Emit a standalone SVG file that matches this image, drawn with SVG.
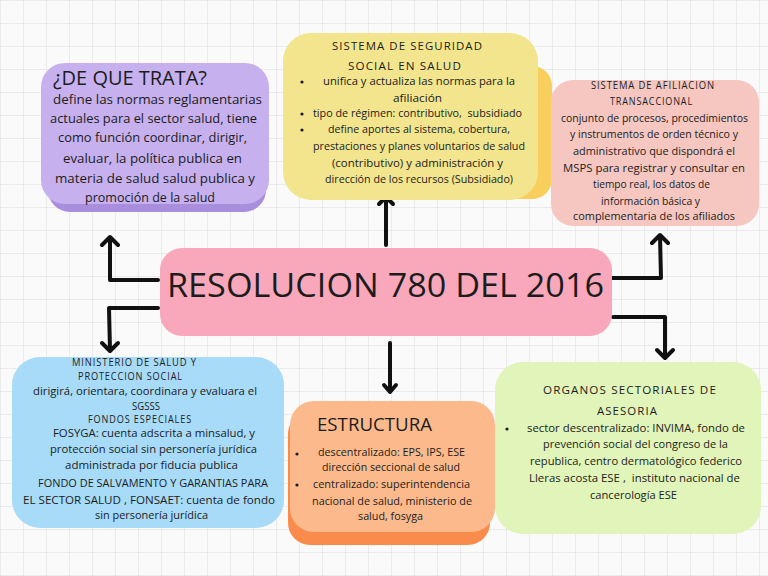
<svg xmlns="http://www.w3.org/2000/svg" width="768" height="576" viewBox="0 0 768 576">
<defs>
<pattern id="grid" x="0" y="0" width="23" height="23" patternUnits="userSpaceOnUse">
<path d="M 23 0 L 0 0 0 23" fill="none" stroke="#dcdcdc" stroke-width="1"/>
</pattern>
<style>
text{font-family:"Open Sans","Liberation Sans",sans-serif;fill:#1c1c1c;}
.b{font-size:10.5px;text-anchor:middle;}
.bb{font-size:12.5px;text-anchor:middle;}
.h{font-size:10.5px;text-anchor:middle;letter-spacing:1px;}
.arrow{fill:none;stroke:#111;stroke-width:4;stroke-linecap:round;stroke-linejoin:round;}
.dot{fill:#1c1c1c;}
</style>
</defs>
<rect width="768" height="576" fill="#fafafa"/>
<rect width="768" height="576" fill="url(#grid)"/>

<g id="connectors">
<path class="arrow" d="M386 245 L386 198 M379 204 L386 197 L393 204"/>
<path class="arrow" d="M390 343 L390 391 M384 385 L390 392 L396 385"/>
<path class="arrow" d="M158 280 L110 280 L110 238 M102 245 L110 237 L118 245"/>
<path class="arrow" d="M158 308 L109 308 L110 350 M102 343 L110 351 L118 343"/>
<path class="arrow" d="M608 278 L661 278 L660 236 M652 243 L660 235 L668 243"/>
<path class="arrow" d="M613 317 L665 317 L665 357 M657 350 L665 358 L673 350"/>
</g>

<g id="node-que-trata">
<rect x="48" y="72" width="218" height="140" rx="22" fill="#a98edd"/>
<rect x="41" y="63" width="228" height="141" rx="24" fill="#c6b1ee"/>
<text x="53" y="85" font-size="20" textLength="154" lengthAdjust="spacingAndGlyphs">¿DE QUE TRATA?</text>
<text class="bb" x="157.5" y="104" textLength="209" lengthAdjust="spacingAndGlyphs">define las normas reglamentarias</text>
<text class="bb" x="153.5" y="123" textLength="207" lengthAdjust="spacingAndGlyphs">actuales para el sector salud, tiene</text>
<text class="bb" x="152.5" y="142" textLength="189" lengthAdjust="spacingAndGlyphs">como función coordinar, dirigir,</text>
<text class="bb" x="152.5" y="163" textLength="179" lengthAdjust="spacingAndGlyphs">evaluar, la política publica en</text>
<text class="bb" x="155" y="183" textLength="200" lengthAdjust="spacingAndGlyphs">materia de salud salud publica y</text>
<text class="bb" x="150" y="202" textLength="130" lengthAdjust="spacingAndGlyphs">promoción de la salud</text>
</g>

<g id="node-sistema-seguridad">
<rect x="300" y="66" width="252" height="133" rx="20" fill="#f8cf5c"/>
<rect x="283" y="33" width="255" height="167" rx="28" fill="#f2e58e"/>
<text class="h" x="407.5" y="50" textLength="151" lengthAdjust="spacingAndGlyphs">SISTEMA DE SEGURIDAD</text>
<text class="h" x="405" y="70" textLength="114" lengthAdjust="spacingAndGlyphs">SOCIAL EN SALUD</text>
<circle class="dot" cx="302" cy="82" r="1.6"/>
<circle class="dot" cx="302" cy="114" r="1.6"/>
<circle class="dot" cx="302" cy="130" r="1.6"/>
<text class="b" x="419" y="85" textLength="192" lengthAdjust="spacingAndGlyphs">unifica y actualiza las normas para la</text>
<text class="b" x="417.5" y="102" textLength="49" lengthAdjust="spacingAndGlyphs">afiliación</text>
<text class="b" x="417.5" y="117" textLength="209" lengthAdjust="spacingAndGlyphs" xml:space="preserve">tipo de régimen: contributivo,  subsidiado</text>
<text class="b" x="419" y="133" textLength="182" lengthAdjust="spacingAndGlyphs">define aportes al sistema, cobertura,</text>
<text class="b" x="419" y="150" textLength="212" lengthAdjust="spacingAndGlyphs">prestaciones y planes voluntarios de salud</text>
<text class="b" x="417.5" y="167" textLength="171" lengthAdjust="spacingAndGlyphs">(contributivo) y administración y</text>
<text class="b" x="419" y="183" textLength="188" lengthAdjust="spacingAndGlyphs">dirección de los recursos (Subsidiado)</text>
</g>

<g id="node-afiliacion">
<rect x="551" y="80" width="208" height="146" rx="22" fill="#f5c7c0"/>
<text class="h" x="653" y="89" font-size="10" textLength="124" lengthAdjust="spacingAndGlyphs">SISTEMA DE AFILIACION</text>
<text class="h" x="651.5" y="105" font-size="10" textLength="83" lengthAdjust="spacingAndGlyphs">TRANSACCIONAL</text>
<text class="b" x="654.5" y="122" textLength="187" lengthAdjust="spacingAndGlyphs">conjunto de procesos, procedimientos</text>
<text class="b" x="654" y="138" textLength="168" lengthAdjust="spacingAndGlyphs">y instrumentos de orden técnico y</text>
<text class="b" x="654" y="155" textLength="162" lengthAdjust="spacingAndGlyphs">administrativo que dispondrá el</text>
<text class="b" x="654" y="172" textLength="182" lengthAdjust="spacingAndGlyphs">MSPS para registrar y consultar en</text>
<text class="b" x="651.5" y="188" textLength="117" lengthAdjust="spacingAndGlyphs">tiempo real, los datos de</text>
<text class="b" x="650.5" y="205" textLength="99" lengthAdjust="spacingAndGlyphs">información básica y</text>
<text class="b" x="654" y="220" textLength="162" lengthAdjust="spacingAndGlyphs">complementaria de los afiliados</text>
</g>

<g id="node-resolucion">
<rect x="160" y="248" width="452" height="88" rx="22" fill="#f9a8bb"/>
<text x="385.5" y="297" font-size="33" text-anchor="middle" textLength="437" lengthAdjust="spacingAndGlyphs">RESOLUCION 780 DEL 2016</text>
</g>

<g id="node-ministerio">
<rect x="12" y="357" width="272" height="171" rx="28" fill="#a7dbf8"/>
<text class="h" x="134.5" y="366" font-size="9.5" textLength="125" lengthAdjust="spacingAndGlyphs">MINISTERIO DE SALUD Y</text>
<text class="h" x="130.5" y="380" font-size="9.5" textLength="105" lengthAdjust="spacingAndGlyphs">PROTECCION SOCIAL</text>
<text class="b" x="145" y="395" font-size="10" textLength="224" lengthAdjust="spacingAndGlyphs">dirigirá, orientara, coordinara y evaluara el</text>
<text class="b" x="146" y="410" font-size="10" textLength="28" lengthAdjust="spacingAndGlyphs">SGSSS</text>
<text class="h" x="140" y="423" font-size="9.5" textLength="104" lengthAdjust="spacingAndGlyphs">FONDOS ESPECIALES</text>
<text class="b" x="154" y="437" textLength="202" lengthAdjust="spacingAndGlyphs">FOSYGA: cuenta adscrita a minsalud, y</text>
<text class="b" x="153.5" y="453" textLength="207" lengthAdjust="spacingAndGlyphs">protección social sin personería jurídica</text>
<text class="b" x="151.5" y="469" textLength="173" lengthAdjust="spacingAndGlyphs">administrada por fiducia publica</text>
<text class="b" x="153" y="487" textLength="230" lengthAdjust="spacingAndGlyphs">FONDO DE SALVAMENTO Y GARANTIAS PARA</text>
<text class="b" x="149" y="504" textLength="252" lengthAdjust="spacingAndGlyphs">EL SECTOR SALUD , FONSAET: cuenta de fondo</text>
<text class="b" x="151.5" y="519" textLength="113" lengthAdjust="spacingAndGlyphs">sin personería jurídica</text>
</g>

<g id="node-estructura">
<rect x="288" y="412" width="202" height="133" rx="22" fill="#f98c4d"/>
<rect x="290" y="401" width="205" height="131" rx="24" fill="#fcba8c"/>
<text x="317" y="431" font-size="18" textLength="115" lengthAdjust="spacingAndGlyphs">ESTRUCTURA</text>
<circle class="dot" cx="297" cy="454" r="1.6"/>
<circle class="dot" cx="297" cy="485" r="1.6"/>
<text class="b" x="391.5" y="456" textLength="147" lengthAdjust="spacingAndGlyphs">descentralizado: EPS, IPS, ESE</text>
<text class="b" x="391" y="471" textLength="138" lengthAdjust="spacingAndGlyphs">dirección seccional de salud</text>
<text class="b" x="391.5" y="488" textLength="157" lengthAdjust="spacingAndGlyphs">centralizado: superintendencia</text>
<text class="b" x="392" y="505" textLength="160" lengthAdjust="spacingAndGlyphs">nacional de salud, ministerio de</text>
<text class="b" x="390.5" y="520" textLength="65" lengthAdjust="spacingAndGlyphs">salud, fosyga</text>
</g>

<g id="node-organos">
<rect x="495" y="362" width="266" height="172" rx="28" fill="#e1f4b9"/>
<text class="h" x="630" y="394" font-size="12" textLength="174" lengthAdjust="spacingAndGlyphs">ORGANOS SECTORIALES DE</text>
<text class="h" x="627.5" y="415" font-size="12" textLength="61" lengthAdjust="spacingAndGlyphs">ASESORIA</text>
<circle class="dot" cx="507" cy="429" r="1.6"/>
<text class="b" x="636" y="432" textLength="218" lengthAdjust="spacingAndGlyphs">sector descentralizado: INVIMA, fondo de</text>
<text class="b" x="635.5" y="448" textLength="185" lengthAdjust="spacingAndGlyphs">prevención social del congreso de la</text>
<text class="b" x="636" y="465" textLength="212" lengthAdjust="spacingAndGlyphs">republica, centro dermatológico federico</text>
<text class="b" x="634.5" y="482" textLength="211" lengthAdjust="spacingAndGlyphs" xml:space="preserve">Lleras acosta ESE ,  instituto nacional de</text>
<text class="b" x="633.5" y="499" textLength="87" lengthAdjust="spacingAndGlyphs">cancerología ESE</text>
</g>
</svg>
